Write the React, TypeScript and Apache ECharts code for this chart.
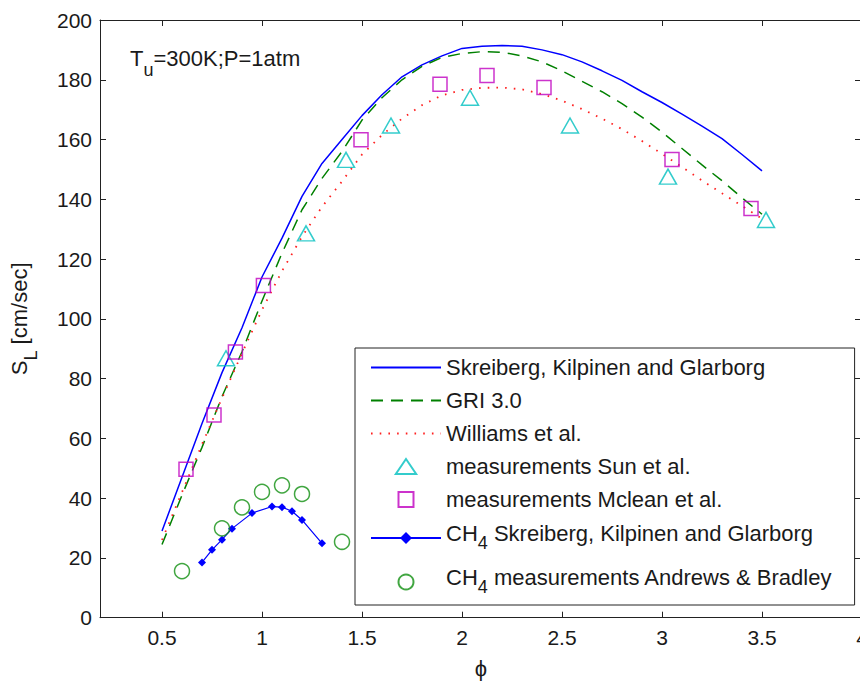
import React, { useEffect, useRef } from 'react';
import * as echarts from 'echarts';

// ---- data ----
const curvePhi = [0.5, 0.6, 0.7, 0.8, 0.9, 1.0, 1.1, 1.2, 1.3, 1.4, 1.5, 1.6, 1.7, 1.8, 1.9, 2.0, 2.1, 2.2, 2.3, 2.4, 2.5, 2.6, 2.7, 2.8, 2.9, 3.0, 3.1, 3.2, 3.3, 3.4, 3.5];
const skreibergSL = [29, 47, 65, 82, 97, 114, 127, 141, 152, 160, 168, 175, 181, 185, 188, 190.5, 191.2, 191.5, 191.2, 190, 188.4, 186, 183, 179.8, 176, 172.4, 168.5, 164.5, 160.3, 155, 149.5];
const griSL = [24.5, 41, 57, 74, 89, 106, 122, 136.5, 147, 156, 166.5, 174, 180, 184.5, 187.5, 188.8, 189.4, 189.2, 188, 186, 183, 179.5, 176, 172, 167.5, 162.5, 157, 151.5, 146.2, 140.5, 135];
const williamsSL = [26, 42, 58, 73.5, 88.5, 103, 116, 127.5, 137.5, 146, 155, 161.5, 167, 171.5, 174.8, 176.6, 177.3, 177.4, 176.8, 175.2, 173, 170.2, 167, 163.5, 159.5, 155.2, 150.8, 146.3, 142, 137.8, 133.5];

const sunPhi = [0.82, 1.22, 1.42, 1.645, 2.04, 2.54, 3.03, 3.52];
const sunSL = [86.8, 128.6, 153.2, 164.7, 174, 164.7, 147.6, 133.1];

const mcleanPhi = [0.62, 0.76, 0.867, 1.007, 1.495, 1.89, 2.125, 2.41, 3.05, 3.445];
const mcleanSL = [49.7, 67.8, 88.9, 111.2, 159.9, 178.5, 181.4, 177.4, 153.3, 136.9];

const ch4ModelPhi = [0.7, 0.75, 0.8, 0.85, 0.95, 1.05, 1.1, 1.15, 1.2, 1.3];
const ch4ModelSL = [18.5, 22.7, 26.1, 29.8, 35.0, 37.2, 37.0, 35.6, 32.7, 24.9];

const ch4MeasPhi = [0.6, 0.8, 0.9, 1.0, 1.1, 1.2, 1.4];
const ch4MeasSL = [15.6, 29.9, 36.9, 42.1, 44.3, 41.4, 25.4];

const xTicks = [0.5, 1, 1.5, 2, 2.5, 3, 3.5, 4];

const seriesNames = [
  'Skreiberg, Kilpinen and Glarborg',
  'GRI 3.0',
  'Williams et al.',
  'measurements Sun et al.',
  'measurements Mclean et al.',
  'CH4 Skreiberg, Kilpinen and Glarborg',
  'CH4 measurements Andrews & Bradley',
];

const pairs = (xs: number[], ys: number[]) => xs.map((x, i) => [x, ys[i]]);

const FONT = '"Liberation Sans", Arial, Helvetica, "DejaVu Sans", sans-serif';
const TXT = '#1a1a1a';
const AX = '#222';
const NOFILL = 'rgba(0,0,0,0)';
const TRI_ICON = 'path://M9.5,0L19,14L0,14Z';
const SQ_ICON = 'path://M0,0L14,0L14,14L0,14Z';

const subRich = (L: number, pb: number, pt: number) => ({
  a: { fontSize: 22, fontWeight: 'normal', fontFamily: FONT, color: TXT, lineHeight: 25, verticalAlign: 'top', padding: [pt, 0, 0, 0] },
  b: { fontSize: 18, fontWeight: 'normal', fontFamily: FONT, color: TXT, lineHeight: L, verticalAlign: 'bottom', padding: [0, 0, pb, 0] },
});

export default function App() {
  const ref = useRef<HTMLDivElement>(null);
  useEffect(() => {
    if (!ref.current) return;
    const chart = echarts.init(ref.current, undefined, { renderer: 'svg' });
    const legendData = seriesNames.map((name, i) => {
      if (i === 3) return { name, icon: TRI_ICON };
      if (i === 4) return { name, icon: SQ_ICON };
      return { name };
    });
    const option: any = {
      animation: false,
      backgroundColor: '#fff',
      textStyle: { fontFamily: FONT },
      title: {
        text: '{a|T}{b|u}{a|=300K;P=1atm}',
        left: 130,
        top: 47,
        padding: 0,
        textStyle: { fontWeight: 'normal', rich: subRich(32, 0, 0) },
      },
      grid: { left: 100, right: -2, top: 20, bottom: 63.3, containLabel: false, outerBoundsMode: 'none' },
      legend: {
        orient: 'vertical',
        left: 355,
        top: 348,
        padding: [7, 22, 5, 15],
        itemWidth: 70,
        itemHeight: 15,
        itemGap: 8,
        symbolKeepAspect: true,
        selectedMode: false,
        backgroundColor: '#fff',
        borderColor: AX,
        borderWidth: 1,
        borderRadius: 0,
        data: legendData,
        textStyle: { fontSize: 22, lineHeight: 25, color: TXT, fontFamily: FONT, rich: subRich(36, 4, 2) },
        formatter: (name: string) => {
          if (name.startsWith('CH4')) return '{a|CH}{b|4}{a|' + name.slice(3) + '}';
          return name;
        },
      },
      xAxis: [
        {
          type: 'value', min: 0.19, max: 4, position: 'bottom',
          axisLine: { show: true, onZero: false, lineStyle: { color: AX, width: 1 } },
          axisTick: { show: true, inside: true, length: 6, customValues: xTicks, lineStyle: { color: AX } },
          axisLabel: { show: true, customValues: xTicks, fontSize: 21, lineHeight: 21, margin: 9, color: TXT, fontFamily: FONT },
          splitLine: { show: false },
          name: 'ϕ', nameLocation: 'middle', nameGap: 38,
          nameTextStyle: { fontSize: 22, lineHeight: 26, color: TXT, fontFamily: FONT },
        },
        {
          type: 'value', min: 0.19, max: 4, position: 'top',
          axisLine: { show: true, onZero: false, lineStyle: { color: AX, width: 1 } },
          axisTick: { show: true, inside: true, length: 6, customValues: xTicks, lineStyle: { color: AX } },
          axisLabel: { show: false },
          splitLine: { show: false },
        },
      ],
      yAxis: [
        {
          type: 'value', min: 0, max: 200, interval: 20, position: 'left',
          axisLine: { show: true, onZero: false, lineStyle: { color: AX, width: 1 } },
          axisTick: { show: true, inside: true, length: 6, lineStyle: { color: AX } },
          axisLabel: { fontSize: 21, margin: 8, color: TXT, fontFamily: FONT },
          splitLine: { show: false },
          name: '{a|S}{b|L}{a| [cm/sec]}', nameLocation: 'middle', nameGap: 60, nameRotate: 90,
          nameTextStyle: { rich: subRich(32, 0, 0) },
        },
        {
          type: 'value', min: 0, max: 200, interval: 20, position: 'right',
          axisLine: { show: true, onZero: false, lineStyle: { color: AX, width: 1 } },
          axisTick: { show: true, inside: true, length: 7, lineStyle: { color: AX } },
          axisLabel: { show: false },
          splitLine: { show: false },
        },
      ],
      series: [
        {
          name: seriesNames[0], type: 'line', data: pairs(curvePhi, skreibergSL), symbol: 'none',
          lineStyle: { color: '#0000ff', width: 1.5 }, itemStyle: { color: NOFILL }, z: 3,
        },
        {
          name: seriesNames[1], type: 'line', data: pairs(curvePhi, griSL), symbol: 'none',
          lineStyle: { color: '#008000', width: 1.5, type: [12, 8] }, itemStyle: { color: NOFILL }, z: 3,
        },
        {
          name: seriesNames[2], type: 'line', data: pairs(curvePhi, williamsSL), symbol: 'none',
          lineStyle: { color: '#ff2020', width: 1.8, type: [1.6, 7.1] }, itemStyle: { color: NOFILL }, z: 3,
        },
        {
          name: seriesNames[3], type: 'scatter', data: pairs(sunPhi, sunSL), symbol: 'triangle', symbolSize: [17, 15],
          itemStyle: { color: NOFILL, borderColor: '#00bfbf', borderWidth: 1.5 }, z: 4,
        },
        {
          name: seriesNames[4], type: 'scatter', data: pairs(mcleanPhi, mcleanSL), symbol: 'rect', symbolSize: 14,
          itemStyle: { color: NOFILL, borderColor: '#bf00bf', borderWidth: 1.5 }, z: 4,
        },
        {
          name: seriesNames[5], type: 'line', data: pairs(ch4ModelPhi, ch4ModelSL), symbol: 'diamond', symbolSize: 8,
          showSymbol: true, lineStyle: { color: '#0000ff', width: 1.2 }, itemStyle: { color: '#0000ff' }, z: 3,
        },
        {
          name: seriesNames[6], type: 'scatter', data: pairs(ch4MeasPhi, ch4MeasSL), symbol: 'circle', symbolSize: 15,
          itemStyle: { color: NOFILL, borderColor: '#119011', borderWidth: 1.5 }, z: 4,
        },
      ],
    };
    chart.setOption(option);
    return () => chart.dispose();
  }, []);
  return <div ref={ref} style={{ position: 'fixed', left: 0, top: 0, width: 860, height: 681, background: '#fff' }} />;
}
